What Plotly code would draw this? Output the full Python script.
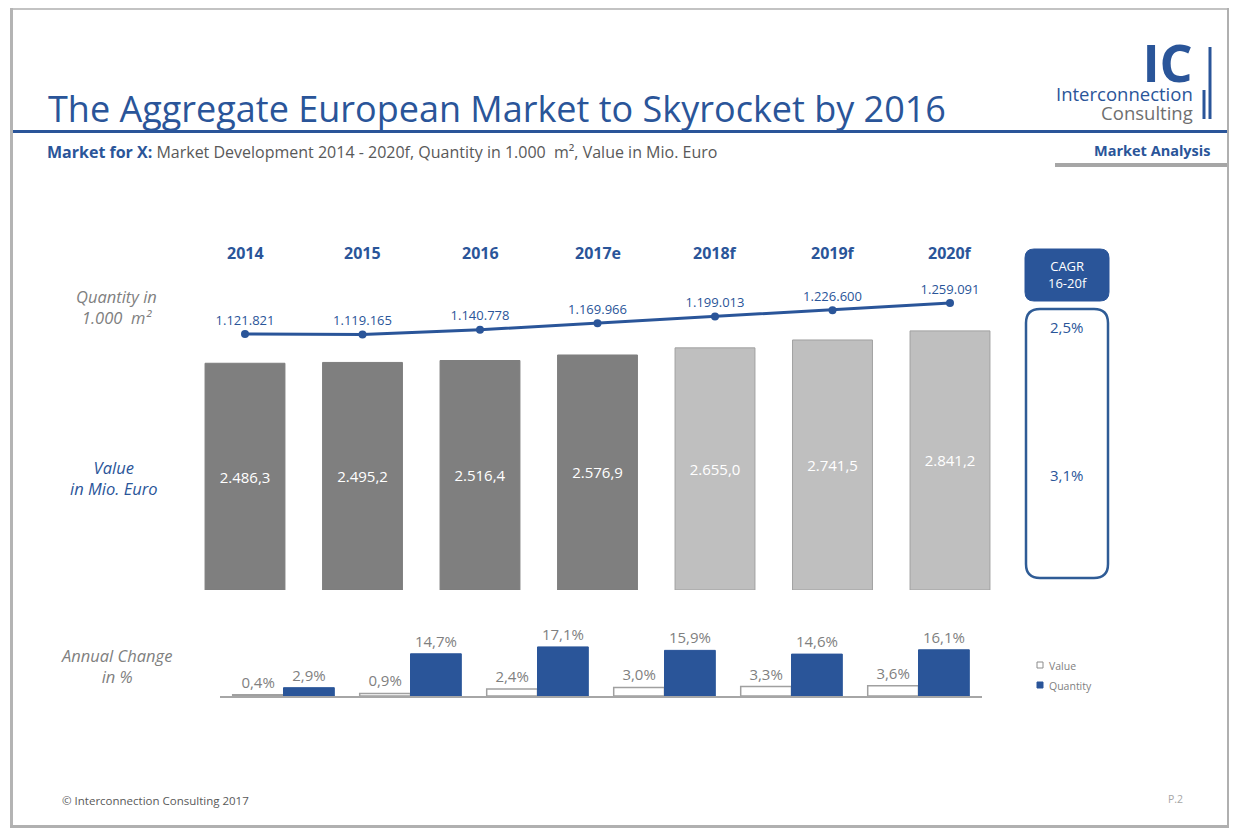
import plotly.graph_objects as go

# The page body has an 8px margin, so the figure is drawn 8px in from the
# window's top-left corner; coordinates below are given in window pixels.
OFF = 8
W, H = 1237 - OFF, 828 - OFF


def px(x):
    return (x - OFF) / W


def py(y):
    return 1 - (y - OFF) / H


BLUE = "#2a5599"
DARK = "#7f7f7f"
LIGHT = "#bfbfbf"
GRAY_TXT = "#7f7f7f"
FONT = "Open Sans"

# ---------------- data ----------------
years = ["2014", "2015", "2016", "2017e", "2018f", "2019f", "2020f"]
value_mio_eur = [2486.3, 2495.2, 2516.4, 2576.9, 2655.0, 2741.5, 2841.2]
quantity_k_m2 = [1121821, 1119165, 1140778, 1169966, 1199013, 1226600, 1259091]
is_forecast = [False, False, False, False, True, True, True]

change_years = ["2015", "2016", "2017e", "2018f", "2019f", "2020f"]
value_change_pct = [0.4, 0.9, 2.4, 3.0, 3.3, 3.6]
quantity_change_pct = [2.9, 14.7, 17.1, 15.9, 14.6, 16.1]

cagr_quantity = "2,5%"
cagr_value = "3,1%"


def de_num(v, dec):
    s = f"{v:,.{dec}f}"
    return s.replace(",", "X").replace(".", ",").replace("X", ".")


value_labels = [de_num(v, 1) for v in value_mio_eur]
quantity_labels = [de_num(v, 0) for v in quantity_k_m2]
value_change_labels = [de_num(v, 1) + "%" for v in value_change_pct]
quantity_change_labels = [de_num(v, 1) + "%" for v in quantity_change_pct]

fig = go.Figure()

# main value bars
fig.add_trace(go.Bar(
    x=years, y=value_mio_eur, xaxis="x", yaxis="y", name="Value",
    width=0.68,
    marker=dict(color=[LIGHT if f else DARK for f in is_forecast],
                line=dict(color=["#a0a0a0" if f else DARK for f in is_forecast], width=1)),
    text=value_labels, textposition="inside", insidetextanchor="middle", textangle=0,
    textfont=dict(color="white", size=15, family=FONT),
    hoverinfo="skip", showlegend=False,
))

# quantity line
fig.add_trace(go.Scatter(
    x=years, y=quantity_k_m2, xaxis="x", yaxis="y2", name="Quantity",
    mode="lines+markers+text",
    line=dict(color=BLUE, width=3), marker=dict(color=BLUE, size=8),
    text=quantity_labels, textposition="top center",
    textfont=dict(color=BLUE, size=13, family=FONT),
    cliponaxis=False, hoverinfo="skip", showlegend=False,
))

# annual change bars
fig.add_trace(go.Bar(
    x=change_years, y=value_change_pct, xaxis="x2", yaxis="y3", name="Value",
    width=0.4, offset=-0.4,
    marker=dict(color="white", line=dict(color="#a0a0a0", width=1.5)),
    text=value_change_labels, textposition="outside", textangle=0,
    textfont=dict(color=GRAY_TXT, size=15, family=FONT),
    cliponaxis=False, hoverinfo="skip", showlegend=False,
))
fig.add_trace(go.Bar(
    x=change_years, y=quantity_change_pct, xaxis="x2", yaxis="y3", name="Quantity",
    width=0.4, offset=0,
    marker=dict(color=BLUE, line=dict(color=BLUE, width=1)),
    text=quantity_change_labels, textposition="outside", textangle=0,
    textfont=dict(color=GRAY_TXT, size=15, family=FONT),
    cliponaxis=False, hoverinfo="skip", showlegend=False,
))

shapes = []


def rect(x0, y0, x1, y1, fill, line_color=None, lw=0):
    shapes.append(dict(type="rect", xref="paper", yref="paper",
                       x0=px(x0), x1=px(x1), y0=py(y1), y1=py(y0),
                       fillcolor=fill, line=dict(color=line_color or fill, width=lw),
                       layer="above"))


def hline(x0, x1, y, color, w):
    shapes.append(dict(type="line", xref="paper", yref="paper",
                       x0=px(x0), x1=px(x1), y0=py(y), y1=py(y),
                       line=dict(color=color, width=w)))


def vline(x, y0, y1, color, w):
    shapes.append(dict(type="line", xref="paper", yref="paper",
                       x0=px(x), x1=px(x), y0=py(y0), y1=py(y1),
                       line=dict(color=color, width=w)))


def rounded(x0, y0, x1, y1, r, fill, line_color, lw):
    X0, X1 = px(x0), px(x1)
    Y0, Y1 = py(y0), py(y1)  # Y0 top, Y1 bottom
    rx, ry = r / W, r / H
    path = (f"M {X0+rx},{Y0} L {X1-rx},{Y0} Q {X1},{Y0} {X1},{Y0-ry} "
            f"L {X1},{Y1+ry} Q {X1},{Y1} {X1-rx},{Y1} "
            f"L {X0+rx},{Y1} Q {X0},{Y1} {X0},{Y1+ry} "
            f"L {X0},{Y0-ry} Q {X0},{Y0} {X0+rx},{Y0} Z")
    shapes.append(dict(type="path", xref="paper", yref="paper", path=path,
                       fillcolor=fill, line=dict(color=line_color, width=lw)))


# slide frame
rect(10, 6, 1237, 10, "#c3c3c3")
rect(10, 6, 13, 828, "#b4b4b4")
rect(1227, 6, 1237, 828, "#b0b0b0")
rect(10, 825, 1237, 828, "#b0b0b0")

# rules
hline(13, 1227, 131.5, BLUE, 3)
hline(1055, 1227, 165, "#a6a6a6", 4)

# logo bars
vline(1210, 47, 119, BLUE, 3)
vline(1204, 90, 119, BLUE, 3)

# CAGR boxes
rounded(1025, 249, 1109, 301, 9, BLUE, BLUE, 1)
rounded(1026, 309, 1108, 578, 14, "rgba(0,0,0,0)", "#2f5c96", 2.5)

# legend squares
rect(1037, 662, 1043, 668, "white", "#8c8c8c", 1)
rect(1037, 682, 1043, 688, BLUE, BLUE, 1)

ann = []


def text(x, y, t, size, color, xanchor="center", bold=False, italic=False, xref="paper",
         family=FONT, yanchor="middle", align="center"):
    if bold:
        t = f"<b>{t}</b>"
    if italic:
        t = f"<i>{t}</i>"
    ann.append(dict(x=px(x) if xref == "paper" else x, y=py(y), xref=xref, yref="paper",
                    text=t, showarrow=False, xanchor=xanchor, yanchor=yanchor, align=align,
                    font=dict(size=size, color=color, family=family)))


# title and headers
text(46, 108, "The Aggregate European Market to Skyrocket by 2016", 36, BLUE, xanchor="left")
text(45, 152, f"<b><span style='color:{BLUE}'>Market for X:</span></b> Market Development 2014 - 2020f, "
     "Quantity in 1.000  m², Value in Mio. Euro", 16, "#595959", xanchor="left")
text(1212, 151, "Market Analysis", 14.5, BLUE, xanchor="right", bold=True)

# logo text: one block, tight line spacing set by the small base font
logo = ("<b><span style='font-size:52px'>IC</span></b><br>"
        "<span style='font-size:18.5px'>Interconnection</span><br>"
        "<span style='font-size:18.5px;color:#6f6f6f'>Consulting</span>")
text(1195, 127, logo, 14.5, BLUE, xanchor="right", yanchor="bottom", align="right")

# year headers (category index on the main x axis)
for i, yr in enumerate(years):
    text(i, 253, yr, 16, BLUE, bold=True, xref="x")

# left side labels
text(116, 307, "Quantity in<br>1.000  m²", 16.5, GRAY_TXT, italic=True)
text(114, 478, "Value<br>in Mio. Euro", 16.5, BLUE, italic=True)
text(116, 666, "Annual Change<br>in %", 16.5, GRAY_TXT, italic=True)

# CAGR texts
text(1067, 274, "CAGR<br>16-20f", 13, "white")
text(1066, 327, cagr_quantity, 15, BLUE)
text(1066, 475, cagr_value, 15, BLUE)

# legend texts
text(1047, 666, "Value", 10.5, GRAY_TXT, xanchor="left")
text(1047, 686, "Quantity", 10.5, GRAY_TXT, xanchor="left")

# footer
text(60, 800, "© Interconnection Consulting 2017", 11.5, "#595959", xanchor="left")
text(1175, 799, "P.2", 10.5, "#a6a6a6")

bar_scale = 0.0912  # px per Mio. Euro
q_scale = 31 / (1259091 - 1121821)  # px per 1.000 m2
y_dom_px = 300

fig.update_layout(
    width=W, height=H, margin=dict(l=0, r=0, t=0, b=0),
    paper_bgcolor="white", plot_bgcolor="rgba(0,0,0,0)",
    showlegend=False, barmode="overlay",
    font=dict(family=FONT),
    xaxis=dict(domain=[px(186.25), px(1008.75)], type="category", range=[-0.5, 6.5],
               visible=False, fixedrange=True),
    yaxis=dict(domain=[py(590), py(590 - y_dom_px)], range=[0, y_dom_px / bar_scale],
               visible=False),
    yaxis2=dict(overlaying="y", anchor="x",
                range=[1121821 - (590 - 334) / q_scale,
                       1121821 - (590 - 334) / q_scale + y_dom_px / q_scale],
                visible=False),
    xaxis2=dict(domain=[px(220), px(982)], anchor="y3", type="category", range=[-0.5, 5.5],
                showticklabels=False, showgrid=False, zeroline=False, ticks="",
                showline=True, linecolor="#a6a6a6", linewidth=2),
    yaxis3=dict(domain=[py(696), py(626)], anchor="x2", range=[0, 70 / 2.87],
                visible=False),
    shapes=shapes,
    annotations=ann,
)

fig.write_html("out.html")
